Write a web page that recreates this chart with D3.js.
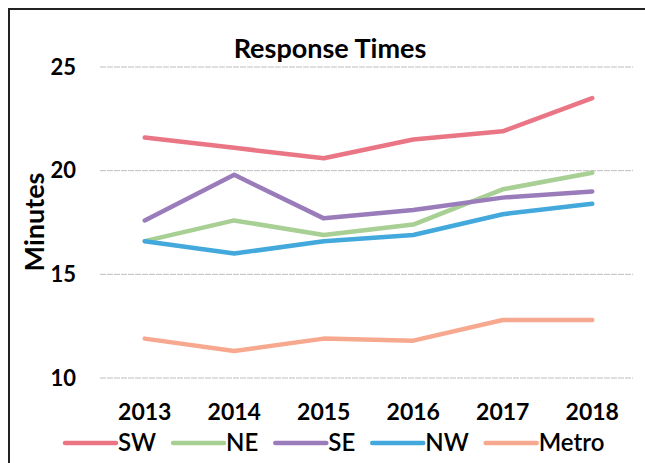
<!DOCTYPE html>
<html>
<head>
  <meta charset="UTF-8">
  <title>Response Times</title>
<style>
    body { margin: 0; background: white; }
    svg { display: block; font-family: Lato, "Open Sans", sans-serif; }
</style>
</head>
<body>
<svg></svg>
<script src="https://d3js.org/d3.v7.min.js"></script>
<script>

let width = 645, height = 463;

// Data
let years = ["2013", "2014", "2015", "2016", "2017", "2018"];
let seriesNames = ["SW", "NE", "SE", "NW", "Metro"];
let seriesColors = ["#ea7584", "#a8cf94", "#9a7cba", "#43a8dc", "#f6a98e"];
let sw    = [21.6, 21.1, 20.6, 21.5, 21.9, 23.5];
let ne    = [16.6, 17.6, 16.9, 17.4, 19.1, 19.9];
let se    = [17.6, 19.8, 17.7, 18.1, 18.7, 19.0];
let nw    = [16.6, 16.0, 16.6, 16.9, 17.9, 18.4];
let metro = [11.9, 11.3, 11.9, 11.8, 12.8, 12.8];
let yTicks = [10, 15, 20, 25];

let seriesValues = [sw, ne, se, nw, metro];

let svg = d3.select("svg")
    .attr("width", width)
    .attr("height", height);

// plot area
let plotLeft = 100, plotRight = 637, plotTop = 67, plotBottom = 378;

let x = d3.scalePoint()
    .domain(years)
    .range([plotLeft, plotRight])
    .padding(0.5);

let y = d3.scaleLinear()
    .domain([10, 25])
    .range([plotBottom, plotTop]);

// frame of the chart (only top and left visible in the scan)
svg.append("path")
    .attr("d", "M9," + (height + 5) + "V9H" + (width + 5))
    .attr("fill", "none")
    .attr("stroke", "#222")
    .attr("stroke-width", 2);

// gridlines
svg.append("g")
    .selectAll("line")
    .data(yTicks)
    .enter()
    .append("line")
    .attr("x1", plotLeft)
    .attr("x2", plotRight - 4)
    .attr("y1", d => y(d))
    .attr("y2", d => y(d))
    .attr("stroke", "#bdbdbd")
    .attr("stroke-width", 1)
    .attr("stroke-dasharray", "6,1");

// y tick labels
svg.append("g")
    .selectAll("text")
    .data(yTicks)
    .enter()
    .append("text")
    .attr("x", 76)
    .attr("y", d => y(d))
    .attr("dy", "0.35em")
    .attr("text-anchor", "end")
    .style("font-size", "22px")
    .style("font-weight", "bold")
    .text(d => d);

// x labels
svg.append("g")
    .selectAll("text")
    .data(years)
    .enter()
    .append("text")
    .attr("x", d => x(d))
    .attr("y", 420)
    .attr("text-anchor", "middle")
    .style("font-size", "23px")
    .style("font-weight", "bold")
    .text(d => d);

// title
svg.append("text")
    .attr("x", 330)
    .attr("y", 58)
    .attr("text-anchor", "middle")
    .style("font-size", "27px")
    .style("font-weight", "bold")
    .text("Response Times");

// y axis title
svg.append("text")
    .attr("transform", "translate(44,222) rotate(-90)")
    .attr("text-anchor", "middle")
    .style("font-size", "27px")
    .style("font-weight", "bold")
    .text("Minutes");

// lines
let line = d3.line()
    .x((d, i) => x(years[i]))
    .y(d => y(d));

svg.append("g")
    .selectAll("path")
    .data(seriesValues)
    .enter()
    .append("path")
    .attr("d", d => line(d))
    .attr("fill", "none")
    .attr("stroke", (d, i) => seriesColors[i])
    .attr("stroke-width", 4.5)
    .attr("stroke-linejoin", "round")
    .attr("stroke-linecap", "round");

// legend
let legend = svg.append("g");
let lx = 65, ly = 443;
seriesNames.forEach((name, i) => {
    legend.append("line")
        .attr("x1", lx)
        .attr("x2", lx + 51)
        .attr("y1", ly)
        .attr("y2", ly)
        .attr("stroke", seriesColors[i])
        .attr("stroke-width", 4.5)
        .attr("stroke-linecap", "round");
    let t = legend.append("text")
        .attr("x", lx + 53)
        .attr("y", ly)
        .attr("dy", "0.35em")
        .style("font-size", "24px")
        .style("font-weight", "600")
        .text(name);
    lx += 53 + t.node().getComputedTextLength() + 17;
});

</script>
</body>
</html>
